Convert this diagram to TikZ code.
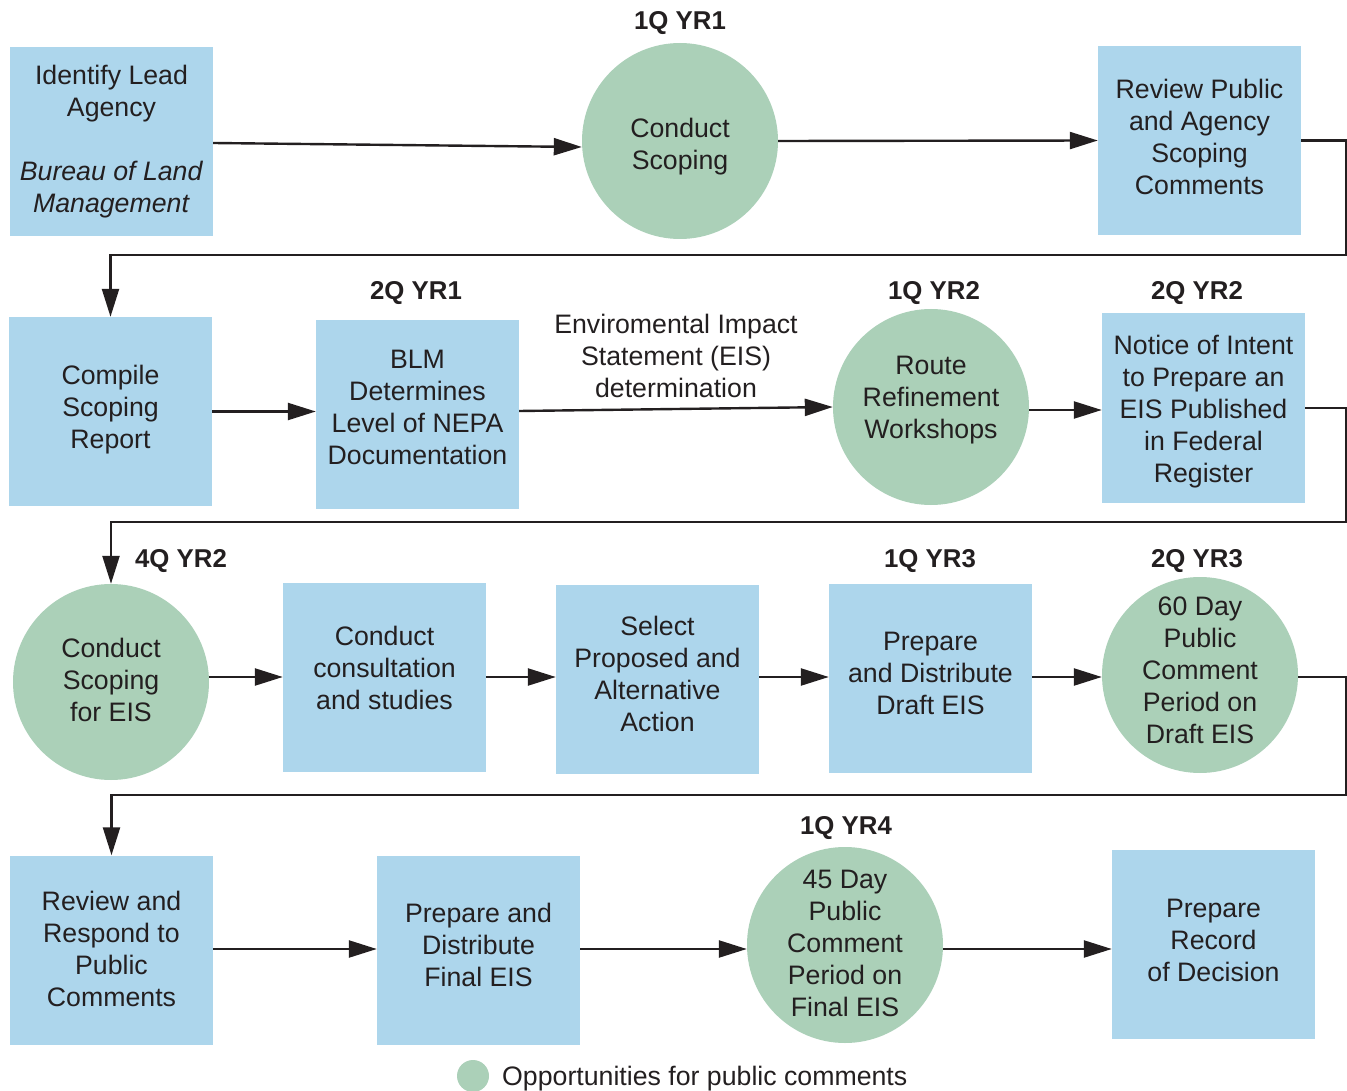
\documentclass[tikz,border=0pt]{standalone}
\usepackage{fontspec}
\setmainfont{Liberation Sans}
\usetikzlibrary{arrows.meta}
\definecolor{stepblue}{HTML}{ADD6EC}
\definecolor{stepgreen}{HTML}{ABD0B8}
\definecolor{ink}{HTML}{231F20}
\begin{document}
\begin{tikzpicture}[x=1pt,y=-1pt,
  txt/.style={font=\fontsize{26.7}{32}\selectfont, text=ink, align=center},
  stepbox/.style={rectangle, fill=stepblue, minimum width=203pt, minimum height=189pt, inner sep=0pt},
  meetcirc/.style={circle, fill=stepgreen, minimum size=196pt, inner sep=0pt},
  when/.style={font=\fontsize{25.8}{30}\selectfont\bfseries, text=ink},
  arr/.style={draw=ink, line width=2.4pt, -{Triangle[length=28pt,width=17pt]}}
]
\useasboundingbox (0,0) rectangle (1347,1091);

% ---- row 1
\node[stepbox] (A) at (111.5,141.5) {};
\node[txt] (tA) at (111.5,141.5) {Identify Lead\\Agency\\[32pt]\textit{Bureau of Land}\\\textit{Management}};
\node[meetcirc] (B) at (680,141) {};
\node[txt] (tB) at (680,147) {Conduct\\Scoping};
\node[when] (lB) at (680,23) {1Q YR1};
\node[stepbox] (C) at (1199.5,140.5) {};
\node[txt] (tC) at (1199.5,136.5) {Review Public\\and Agency\\Scoping\\Comments};

% ---- row 2
\node[stepbox] (D) at (110.5,411.5) {};
\node[txt] (tD) at (110.5,409.5) {Compile\\Scoping\\Report};
\node[stepbox] (E) at (417.5,414.5) {};
\node[txt] (tE) at (417.5,407.5) {BLM\\Determines\\Level of NEPA\\Documentation};
\node[when] (lE) at (416,293) {2Q YR1};
\node[txt] (eis) at (676,356) {Enviromental Impact\\Statement (EIS)\\determination};
\node[meetcirc] (F) at (931,407) {};
\node[txt] (tF) at (931,400) {Route\\Refinement\\Workshops};
\node[when] (lF) at (934,293) {1Q YR2};
\node[stepbox] (G) at (1203.5,408) {};
\node[txt] (tG) at (1203.5,412) {Notice of Intent\\to Prepare an\\EIS Published\\in Federal\\Register};
\node[when] (lG) at (1197,293) {2Q YR2};

% ---- row 3
\node[meetcirc] (H) at (111,682) {};
\node[txt] (tH) at (111,680) {Conduct\\Scoping\\for EIS};
\node[when] (lH) at (181,561) {4Q YR2};
\node[stepbox] (I) at (384.5,677) {};
\node[txt] (tI) at (384.5,668) {Conduct\\consultation\\and studies};
\node[stepbox] (J) at (657.5,679) {};
\node[txt] (tJ) at (657.5,674) {Select\\Proposed and\\Alternative\\Action};
\node[stepbox] (K) at (930.5,678) {};
\node[txt] (tK) at (930.5,673) {Prepare\\and Distribute\\Draft EIS};
\node[when] (lK) at (930,561) {1Q YR3};
\node[meetcirc] (L) at (1200,675) {};
\node[txt] (tL) at (1200,670) {60 Day\\Public\\Comment\\Period on\\Draft EIS};
\node[when] (lL) at (1197,561) {2Q YR3};

% ---- row 4
\node[stepbox] (M) at (111.5,950) {};
\node[txt] (tM) at (111.5,949) {Review and\\Respond to\\Public\\Comments};
\node[stepbox] (N) at (478.5,950) {};
\node[txt] (tN) at (478.5,945) {Prepare and\\Distribute\\Final EIS};
\node[meetcirc] (O) at (845,945) {};
\node[txt] (tO) at (845,943) {45 Day\\Public\\Comment\\Period on\\Final EIS};
\node[when] (lO) at (846,828) {1Q YR4};
\node[stepbox] (P) at (1213.5,944) {};
\node[txt] (tP) at (1213.5,940) {Prepare\\Record\\of Decision};

% ---- legend
\node[circle, fill=stepgreen, minimum size=32pt, inner sep=0pt] (key) at (473,1076) {};
\node[txt, anchor=west, inner sep=0pt] (keytxt) at (502,1079) {Opportunities for public comments};

% ---- flow within rows
\draw[arr] ([yshift=-1.5pt]A.east) -- ([yshift=-6pt]B.west);
\draw[arr] (B.east) -- (C.west);
\draw[arr] (D.east) -- ([yshift=3pt]E.west);
\draw[arr] ([yshift=3.5pt]E.east) -- (F.west);
\draw[arr] ([yshift=-3pt]F.east) -- ([yshift=-2pt]G.west);
\draw[arr] ([yshift=5pt]H.east) -- (I.west);
\draw[arr] (I.east) -- ([yshift=2pt]J.west);
\draw[arr] ([yshift=2pt]J.east) -- ([yshift=1pt]K.west);
\draw[arr] ([yshift=1pt]K.east) -- ([yshift=-2pt]L.west);
\draw[arr] ([yshift=1pt]M.east) -- ([yshift=1pt]N.west);
\draw[arr] ([yshift=1pt]N.east) -- ([yshift=-4pt]O.west);
\draw[arr] ([yshift=-4pt]O.east) -- ([yshift=-5pt]P.west);

% ---- row returns
\coordinate (r1) at (1346,255);
\coordinate (r2) at (1346,522);
\coordinate (r3) at (1346,795);
\draw[arr] (C.east) -| (r1) -| (D.north);
\draw[arr] (G.east) -| (r2) -| (H.north);
\draw[arr] ([yshift=-2pt]L.east) -| (r3) -| (M.north);
\end{tikzpicture}
\end{document}
